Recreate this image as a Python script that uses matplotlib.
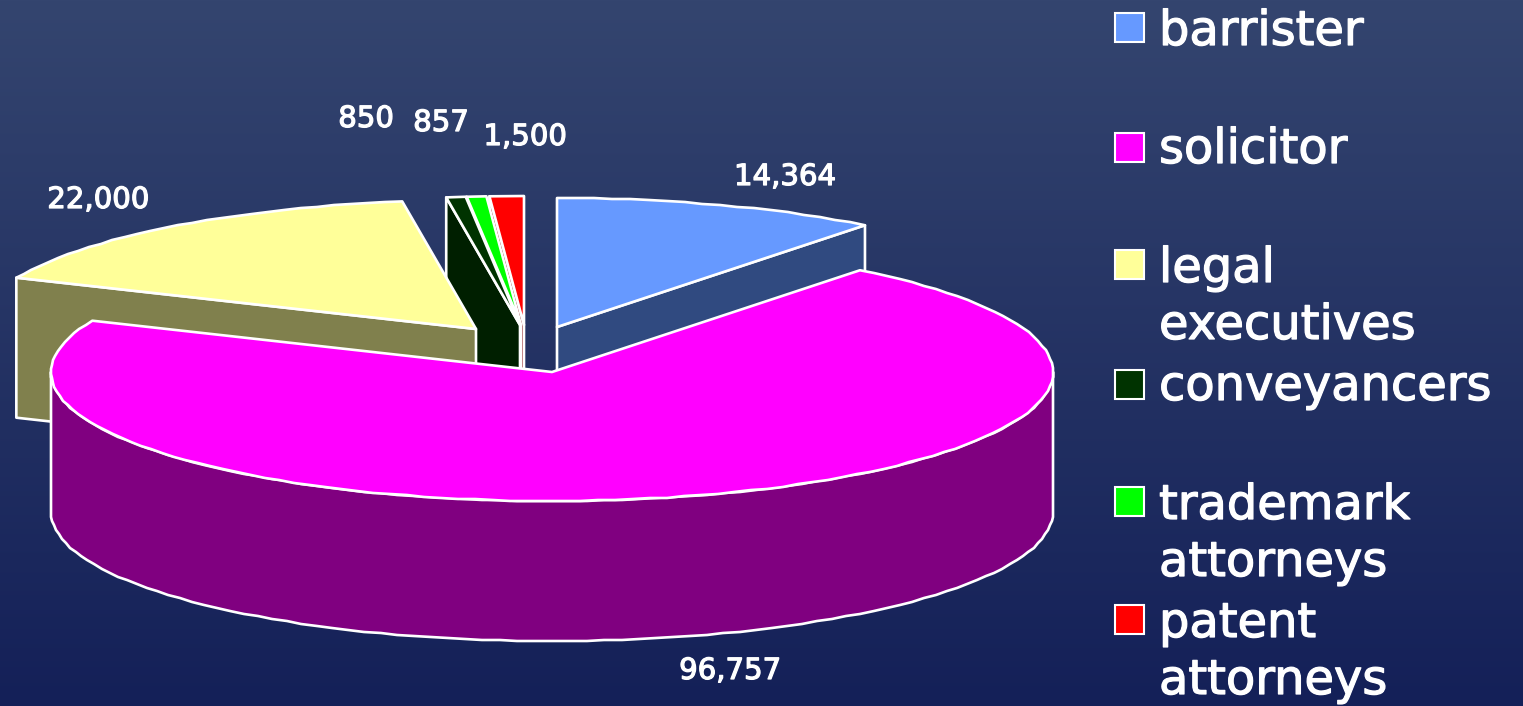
import matplotlib
matplotlib.use('Agg')
import matplotlib.pyplot as plt
import matplotlib.patheffects as pe
from matplotlib.patches import Polygon, Rectangle
import numpy as np

W, H = 1523, 706

# data, clockwise from 12 o'clock
categories = ["barrister", "solicitor", "legal\nexecutives", "conveyancers",
              "trademark\nattorneys", "patent\nattorneys"]
values = [14364, 96757, 22000, 850, 857, 1500]
value_labels = ["14,364", "96,757", "22,000", "850", "857", "1,500"]

top_colors = ["#6699ff", "#ff00ff", "#ffff99", "#003300", "#00ff00", "#ff0000"]
face_colors = ["#304a80", "#800080", "#80804d", "#001f00", "#008000", "#800000"]

# pixel layout
RX, RY, DEPTH = 501, 129, 140
centers = [(557, 327), (552, 372), (476, 329), (520, 325), (521, 325), (524, 325)]
label_pos = [(785, 177), (730, 671), (98, 200), (366, 119), (441, 123), (525, 137)]
swatch_y = [13, 133, 250, 370, 487, 605]
legend_baseline = [45, 163, 282, 400, 519, 637]
LINE_GAP = 57

plt.rcParams['font.family'] = ['DejaVu Sans']

fig = plt.figure(figsize=(W / 100, H / 100), dpi=100)
ax = fig.add_axes([0, 0, 1, 1])
ax.set_xlim(0, W)
ax.set_ylim(H, 0)
ax.axis('off')

# background gradient
top = np.array([52, 69, 111]) / 255
bottom = np.array([20, 32, 88]) / 255
t = np.linspace(0, 1, H)[:, None, None]
ax.imshow(top + (bottom - top) * t, extent=(0, W, H, 0), aspect='auto', zorder=0)


def pt(c, a):
    r = np.radians(a)
    return np.array([c[0] + RX * np.sin(r), c[1] - RY * np.cos(r)])


def rim(c, a0, a1):
    # short steps + rounding give the slightly jagged edge of the original
    n = max(int(abs(a1 - a0) / 2), 1)
    pts = np.array([pt(c, a) for a in np.linspace(a0, a1, n + 1)])
    pts[1:-1] = np.round(pts[1:-1])
    return pts


def poly(pts, color, lw=1.9):
    ax.add_patch(Polygon(pts, closed=True, facecolor=color, edgecolor='white',
                         lw=lw, joinstyle='round', zorder=2))


def cut_face(c, a, color):
    # flat face from the apex out to the rim at angle a
    p = pt(c, a)
    poly([c, p, p + [0, DEPTH], np.array(c) + [0, DEPTH]], color)


def top_face(c, a0, a1, color):
    poly(np.vstack([[c], rim(c, a0, a1)]), color)


total = sum(values)
edges = np.cumsum([0] + values) / total * 360
a0s, a1s = edges[:-1], edges[1:]

# back slices first: patent, trademark, conveyancers
for i in [5, 4, 3]:
    cut_face(centers[i], a0s[i], face_colors[i])
    top_face(centers[i], a0s[i], a1s[i], top_colors[i])

# barrister
cut_face(centers[0], a1s[0], face_colors[0])
top_face(centers[0], a0s[0], a1s[0], top_colors[0])

# legal executives
cut_face(centers[2], a0s[2], face_colors[2])
top_face(centers[2], a0s[2], a1s[2], top_colors[2])

# solicitor, outer wall then top
front = rim(centers[1], 90, 270)
poly(np.vstack([front, (front + [0, DEPTH])[::-1]]), face_colors[1])
top_face(centers[1], a0s[1], a1s[1], top_colors[1])

heavy = [pe.withStroke(linewidth=0.9, foreground='white')]
for (x, y), s in zip(label_pos, value_labels):
    ax.text(x, y, s, color='white', fontsize=21, ha='center', va='center', zorder=3,
            path_effects=heavy)

# legend
for name, col, sy, base in zip(categories, top_colors, swatch_y, legend_baseline):
    ax.add_patch(Rectangle((1115, sy), 29, 29, facecolor=col, edgecolor='white',
                           lw=1.5, zorder=3))
    for j, line in enumerate(name.split("\n")):
        ax.text(1159, base + j * LINE_GAP, line, color='white', fontsize=34.5,
                ha='left', va='baseline', zorder=3, path_effects=heavy)

fig.savefig("out.png", dpi=100)
